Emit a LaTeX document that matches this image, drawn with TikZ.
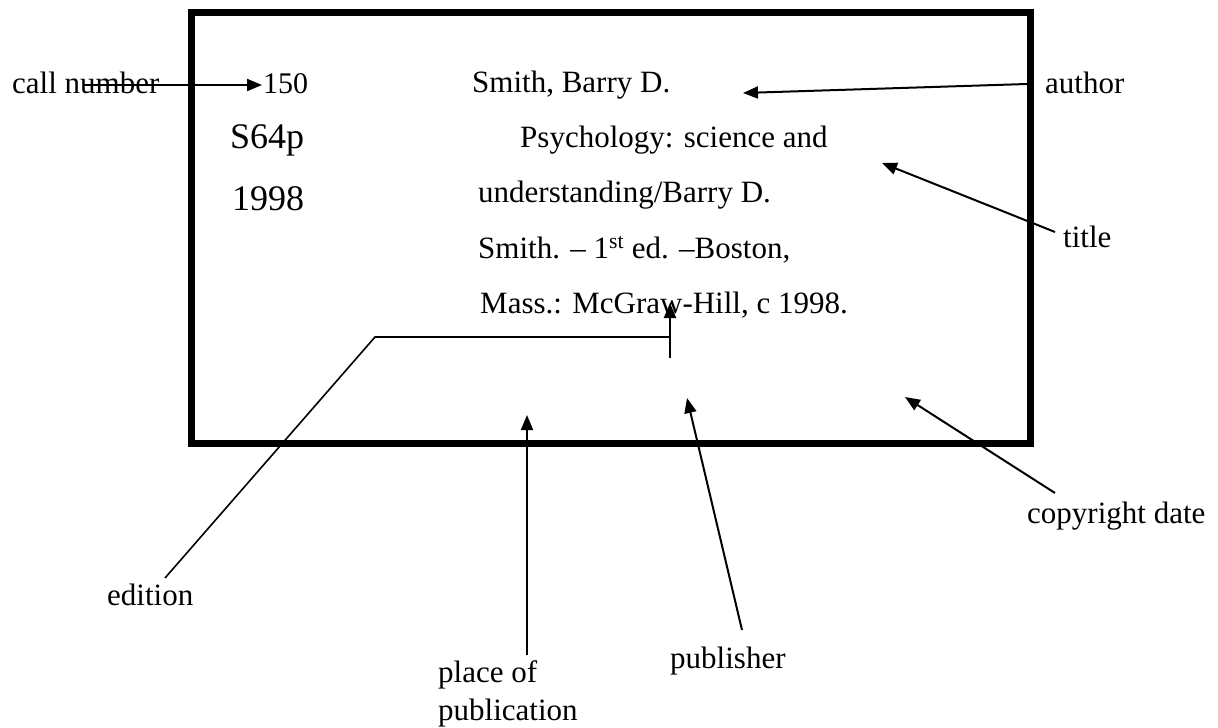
\documentclass[tikz,border=0pt]{standalone}
\usepackage{fontspec}
\setmainfont{Liberation Serif}
\usetikzlibrary{arrows.meta}
\tikzset{
  txt/.style={anchor=base west,inner sep=0pt,font=\fontsize{31}{37}\selectfont},
  bigtxt/.style={anchor=base west,inner sep=0pt,font=\fontsize{36}{42}\selectfont},
  numtxt/.style={anchor=base west,inner sep=0pt,font=\fontsize{30}{36}\selectfont},
  card/.style={line width=7pt},
  pointer/.style={line width=2pt,-{Triangle[length=15pt,width=12pt]}},
  plain/.style={line width=1.6pt}
}
\begin{document}
\begin{tikzpicture}[x=1pt,y=-1pt]
\useasboundingbox (0,0) rectangle (1218,728);
% card
\draw[card] (191,12) rectangle (1030,443);
% left column
\node[numtxt] (n150) at (263,93) {150};
\node[bigtxt] (s64p) at (230,148) {S64p};
\node[bigtxt] (y1998) at (232,210) {1998};
% main entry
\node[txt] (l1) at (472,92) {Smith, Barry D.};
\node[txt] (l2) at (520,147) {Psychology: science and};
\node[txt] (l3) at (478,202) {understanding/Barry D.};
\node[txt] (l4) at (478,258) {Smith. – 1\textsuperscript{st} ed. –Boston,};
\node[txt] (l5) at (480,313) {Mass.: McGraw-Hill, c 1998.};
% labels
\node[txt] (callnum) at (12,93) {call number};
\node[txt] (author) at (1045,93) {author};
\node[txt] (title) at (1063,247) {title};
\node[txt] (copyr) at (1027,523) {copyright date};
\node[txt] (edition) at (107,605) {edition};
\node[txt] (publisher) at (670,668) {publisher};
\node[txt,align=left,anchor=base west] (place) at (438,682) {place of};
\node[txt] (place2) at (438,720) {publication};
% coordinates
\coordinate (cnA) at (83,85);
\coordinate (cnB) at (262,85);
\coordinate (auA) at (1027,84);
\coordinate (auB) at (743,93);
\coordinate (tiA) at (1055,232);
\coordinate (tiB) at (882,163);
\coordinate (coA) at (1055,493);
\coordinate (coB) at (905,397);
\coordinate (puA) at (742,630);
\coordinate (puB) at (687,398);
\coordinate (plA) at (527,655);
\coordinate (plB) at (527,415);
\coordinate (edA) at (165,578);
\coordinate (edB) at (375,337);
\coordinate (brR) at (670,337);
\coordinate (brD) at (670,358);
\coordinate (brT) at (670,303);
% connectors
\draw[pointer] (cnA) -- (cnB);
\draw[pointer] (auA) -- (auB);
\draw[pointer] (tiA) -- (tiB);
\draw[pointer] (coA) -- (coB);
\draw[pointer] (puA) -- (puB);
\draw[pointer] (plA) -- (plB);
\draw[plain] (edA) -- (edB) -- (brR);
\draw[pointer] (brD) -- (brT);
\end{tikzpicture}
\end{document}
